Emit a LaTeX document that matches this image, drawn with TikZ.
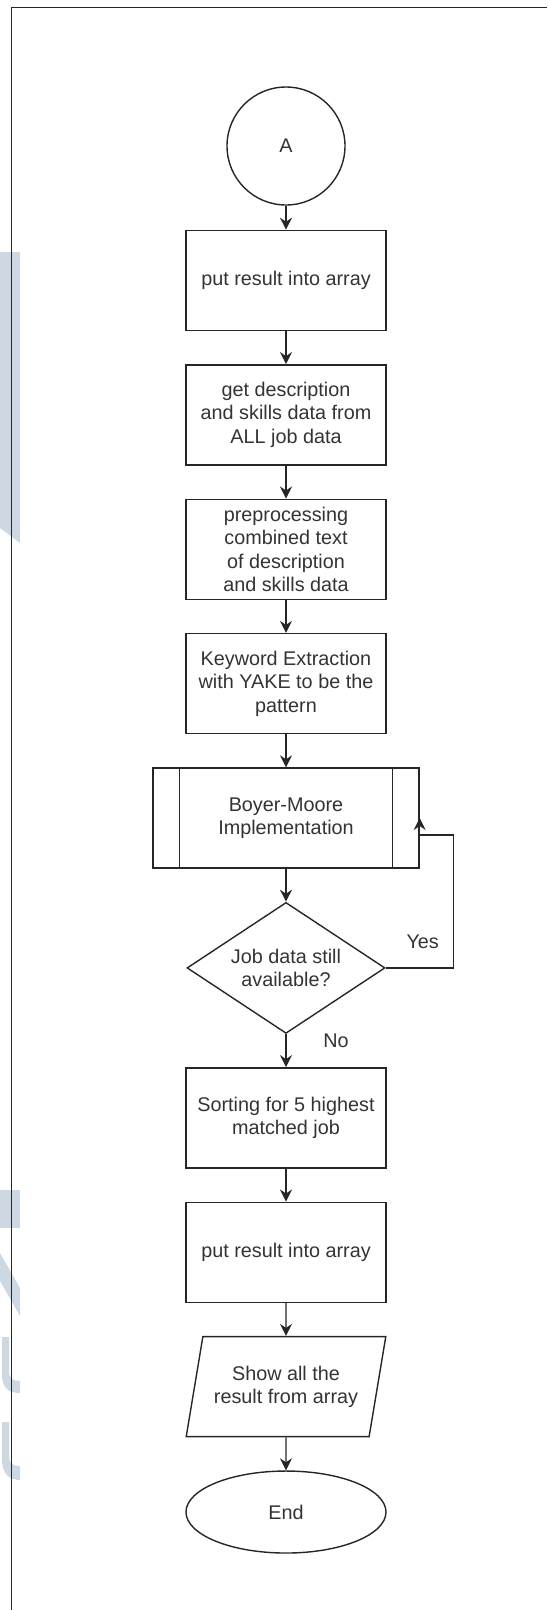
\documentclass[tikz,border=0pt]{standalone}
\usepackage{fontspec}
\setmainfont{Liberation Sans}
\usepackage{xcolor}
\definecolor{linegray}{RGB}{38,38,38}
\definecolor{textgray}{RGB}{51,51,51}
\definecolor{wmblue}{RGB}{205,216,227}
\usepackage{tikz}
\usetikzlibrary{shapes.geometric, arrows.meta, positioning, calc}
\newcommand{\flowfont}{\fontsize{19.8}{23.5}\selectfont}
\tikzset{
  connector/.style={
    circle, draw=linegray, line width=1.4pt,
    minimum size=118pt, inner sep=0pt,
    text=textgray, font=\flowfont
  },
  startstop/.style={
    ellipse, draw=linegray, line width=1.4pt,
    minimum width=200pt, minimum height=82pt, inner sep=0pt,
    text=textgray, font=\flowfont
  },
  process/.style={
    rectangle, draw=linegray, line width=1.4pt,
    minimum width=200pt, minimum height=100pt, inner sep=2pt,
    align=center, text=textgray, font=\flowfont
  },
  predef/.style={
    rectangle, draw=linegray, line width=1.4pt,
    minimum width=266pt, minimum height=100pt, inner sep=2pt,
    align=center, text=textgray, font=\flowfont
  },
  decision/.style={
    diamond, draw=linegray, line width=1.4pt,
    minimum width=198pt, minimum height=131pt, inner sep=0pt,
    shape aspect=1.5, align=center, text=textgray, font=\flowfont
  },
  io/.style={
    trapezium, trapezium left angle=71, trapezium right angle=109,
    trapezium stretches=true, draw=linegray, line width=1.4pt,
    minimum width=200pt, minimum height=100pt, inner sep=0pt,
    align=center, text=textgray, font=\flowfont
  },
  lbl/.style={text=textgray, font=\flowfont, inner sep=0pt},
  arrow/.style={line width=1.4pt, draw=linegray, -{Stealth[length=12pt, width=12pt, inset=4pt]}},
}

\begin{document}
\begin{tikzpicture}[x=1pt, y=1pt, node distance=33pt]
  \useasboundingbox (0,0) rectangle (547,-1610);

  \fill [wmblue] (0,-252) -- (20,-252) -- (20,-543) -- (0,-528) -- cycle;
  \fill [wmblue] (0,-1190) rectangle (20,-1228);
  \fill [wmblue] (0,-1253) -- (20,-1288) -- (20,-1316) -- (0,-1281) -- cycle;
  \fill [wmblue] (2,-1337) -- (9,-1337) -- (9,-1372) .. controls (9,-1378) and (13,-1381) .. (20,-1381) -- (20,-1393) .. controls (8,-1393) and (2,-1387) .. (2,-1375) -- cycle;
  \fill [wmblue] (2,-1422) -- (9,-1422) -- (9,-1457) .. controls (9,-1463) and (13,-1466) .. (20,-1466) -- (20,-1480) .. controls (8,-1480) and (2,-1472) .. (2,-1460) -- cycle;
  \draw [linegray, line width=1.2pt] (11.5,-1610) -- (11.5,-7.7) -- (547,-7.7);

  \node (conA)    [connector] at (286,-146)         {A};
  \node (put1)    [process,   below=24pt of conA]   {put result into array};
  \node (getdesc) [process,   below=of put1]        {get description\\and skills data from\\ALL job data};
  \node (prep)    [process,   below=of getdesc]     {preprocessing\\combined text\\of description\\and skills data};
  \node (yake)    [process,   below=of prep]        {Keyword Extraction\\with YAKE to be the\\pattern};
  \node (bm)      [predef,    below=of yake]        {Boyer-Moore\\Implementation};
  \node (dec)     [decision,  below=of bm]          {Job data still\\available?};
  \node (sort)    [process,   below=of dec]         {Sorting for 5 highest\\matched job};
  \node (put2)    [process,   below=of sort]        {put result into array};
  \node (show)    [io,        below=of put2]        {Show all the\\result from array};
  \node (stop)    [startstop, below=of show]        {End};

  \draw [linegray, line width=1.4pt] ($(bm.north west)+(27,0)$) -- ($(bm.south west)+(27,0)$);
  \draw [linegray, line width=1.4pt] ($(bm.north east)+(-27,0)$) -- ($(bm.south east)+(-27,0)$);

  \coordinate (yturn) at ($(dec.east)+(68,0)$);
  \coordinate (yback) at ($(bm.east)+(0,-17)$);
  \node (yes) [lbl] at ($(dec.east)+(37,26)$)  {Yes};
  \node (no)  [lbl] at ($(dec.south)+(50,-7)$) {No};

  \draw [arrow] (conA)    -- (put1);
  \draw [arrow] (put1)    -- (getdesc);
  \draw [arrow] (getdesc) -- (prep);
  \draw [arrow] (prep)    -- (yake);
  \draw [arrow] (yake)    -- (bm);
  \draw [arrow] (bm)      -- (dec);
  \draw [arrow] (dec)     -- (sort);
  \draw [arrow] (sort)    -- (put2);
  \draw [arrow] (put2)    -- (show);
  \draw [arrow] (show)    -- (stop);
  \draw [arrow] (dec.east) -- (yturn) |- (yback) -- (bm.east);
\end{tikzpicture}
\end{document}
